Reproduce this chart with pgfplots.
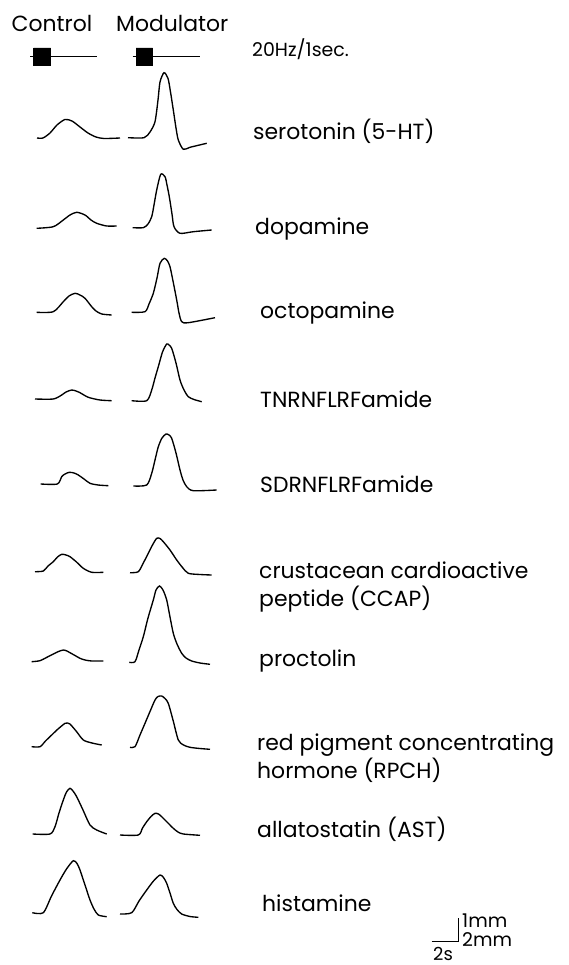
\documentclass[border=0pt]{standalone}
\usepackage{fontspec}
\setmainfont{Poppins}
\usepackage{pgfplots}
\pgfplotsset{compat=1.18}
\tikzset{
  tracepath/.style={black, line width=1.35bp, smooth, tension=0.45, mark=none},
  barline/.style={black, line width=1bp, sharp plot, mark=none},
  labtext/.style={anchor=base west, font=\fontsize{22}{26}\selectfont, inner sep=0pt},
}

\begin{document}
\begin{tikzpicture}
\begin{axis}[width=569bp, height=965bp, scale only axis,
  xmin=0, xmax=569, ymin=0, ymax=965, y dir=reverse,
  hide axis, clip=false]
% page frame (keeps the picture at full size)
\path (axis cs:0,0) rectangle (axis cs:569,965);

% stimulus markers
\addplot[barline] coordinates {(30,56.7) (97,56.7)};
\addplot[barline] coordinates {(132.7,56.7) (200,56.7)};
\addplot[barline, fill=black, line width=0.5bp] coordinates {(33.5,48) (50.5,48) (50.5,65) (33.5,65) (33.5,48)};
\addplot[barline, fill=black, line width=0.5bp] coordinates {(136,48) (152.5,48) (152.5,65) (136,65) (136,48)};

% serotonin
\addplot[tracepath] coordinates {(37,138) (43,138) (50,133) (57,125) (65,119.5) (72,121) (80,127) (88,133) (96,137) (104,138.5) (120,138)};
\addplot[tracepath] coordinates {(128,137.7) (144,137.7) (150,132) (155,121.7) (158,100) (160,82) (164,72.7) (168,78.3) (170.5,92) (173.3,110) (176,128) (178.3,140) (183.3,149.3) (190,147.3) (206.7,143.3)};
% dopamine
\addplot[tracepath] coordinates {(36.7,228.3) (53.3,226.7) (63.3,220) (70,215) (76.7,212.3) (85,215) (91,220) (96.7,223.3) (106.7,226) (116.7,226)};
\addplot[tracepath] coordinates {(132.7,227.7) (143.3,227.7) (148,224) (151.7,216.7) (154,205) (156.7,190) (160.7,174.3) (165,176.7) (167,185) (169.3,196.7) (172,214) (174,226.7) (180,233.3) (193.3,231.7) (211.7,230)};
% octopamine
\addplot[tracepath] coordinates {(36.7,312.3) (53.3,311.7) (63.3,301.7) (69,296) (75,293.3) (80,295) (85,298.3) (91.7,306.7) (96,311) (101.7,314) (111.7,315)};
\addplot[tracepath] coordinates {(131.7,312.3) (145,311.7) (149,304) (153.3,293.3) (157,278) (160,263.3) (164.3,258.3) (167.5,261) (170,266.7) (173,281) (176.7,300) (179,313) (181.7,321.7) (188.3,322.7) (215,317.7)};
% TNRNFLRFamide
\addplot[tracepath] coordinates {(35,399) (53.3,399) (61.7,395) (66,392) (71.7,390) (76,391) (80,392.7) (88.3,397.3) (100,400) (111.7,400.7)};
\addplot[tracepath] coordinates {(131.7,400.7) (146.7,400.7) (151.7,390) (155,378) (158.3,366.7) (162.5,352) (166.7,344) (169,345) (171.7,348.3) (176,363) (180,380) (184,390) (188.3,396.7) (194,399.5) (201.7,401.7)};
% SDRNFLRFamide
\addplot[tracepath] coordinates {(40.7,484) (57.3,484) (61.7,476.7) (65,474) (69.3,472.3) (74,473) (78.3,475) (84,479) (90,483.3) (98,485) (108.3,485.7)};
\addplot[tracepath] coordinates {(133.3,486) (146.7,485) (151.7,473.3) (155,460) (158.3,446.7) (162,438) (166,434) (169,435) (171.7,438.3) (176,453) (180,470) (183,480) (186.7,486.7) (193.3,490.7) (216.7,490)};
% CCAP
\addplot[tracepath] coordinates {(35,571.7) (43.3,571) (48,566) (53.3,561.7) (57.5,557) (61.7,554.3) (66,555) (70,556.7) (76.5,562) (83.3,568.3) (91.7,572.3) (103.3,572.3)};
\addplot[tracepath] coordinates {(130,572.7) (138.3,571.7) (143.3,563) (148.3,553.3) (152.5,545) (156.7,538.3) (160,538.5) (163.3,541.7) (170,550) (176.7,560) (182.5,567.5) (188.3,573.3) (200,574.5) (211.7,575)};
% proctolin
\addplot[tracepath] coordinates {(31.7,661.7) (40,660.7) (46.5,657.5) (53.3,654) (58.5,651.5) (63.3,650) (67,651) (70,652.7) (75,655.5) (80,658.3) (85,660) (91.7,661) (103.3,661)};
\addplot[tracepath] coordinates {(129.3,662.3) (135,661.7) (139,650) (143.3,636.7) (148,618) (153.3,600) (156,590) (159.5,586) (163,590) (166.7,600) (170,617) (173.3,633.3) (177,644) (181.7,653.3) (186,658) (191.7,661) (200,663) (210,664.3)};
% RPCH
\addplot[tracepath] coordinates {(31.7,746.7) (40,746.7) (45.5,741) (51.7,735) (58,729) (65,723.3) (67.5,723) (70,724) (76.5,731.5) (83.3,740) (92,743) (101.7,745)};
\addplot[tracepath] coordinates {(130,747.3) (135,746.7) (140,735) (145,723.3) (150,711.5) (155,700) (158,696.5) (161.7,696) (165,698.5) (168.3,703.3) (173,720) (178.3,740) (183.5,745) (190,747.3) (200,748.5) (210,749.3)};
% AST
\addplot[tracepath] coordinates {(32.7,834) (50,834) (55,826.7) (59,813) (63.3,800) (66.5,792) (70,788.3) (73,791) (76.7,796.7) (83,810) (90,825) (96.7,830) (106.7,834)};
\addplot[tracepath] coordinates {(120,835) (138.3,835) (142.5,828) (146.7,821.7) (151,816.5) (155,813.3) (158.5,814) (161.7,816.7) (167.5,822.5) (173.3,828.3) (178,832) (183.3,834) (200,835.3)};
% histamine
\addplot[tracepath] coordinates {(32.3,912.7) (43.3,912.7) (51.5,896) (60,880) (66.5,869) (73.3,860.7) (77,863.5) (80,870) (85,885) (90,900) (94,909) (98.3,915) (106.7,916.7)};
\addplot[tracepath] coordinates {(120,914) (131.7,912.7) (139,901) (146.7,890) (153.5,881) (160,875) (163.5,877.5) (166.7,883.3) (170,893) (173.3,903.3) (177,909.5) (181.7,914) (190,916.5) (198.3,917.3)};

% scale bar
\addplot[barline] coordinates {(431.7,941) (458.3,941) (458.3,918.3)};

% labels
\node[labtext] at (axis cs:11.5,31.5) {Control};
\node[labtext] at (axis cs:116,31.5) {Modulator};
\node[labtext, font=\fontsize{19}{22}\selectfont] at (axis cs:252,57) {20Hz/1sec.};
\node[labtext] at (axis cs:253,140) {serotonin (5-HT)};
\node[labtext] at (axis cs:255,234) {dopamine};
\node[labtext] at (axis cs:260,318) {octopamine};
\node[labtext] at (axis cs:260,407) {TNRNFLRFamide};
\node[labtext] at (axis cs:260,492) {SDRNFLRFamide};
\node[labtext] at (axis cs:259,578) {crustacean cardioactive};
\node[labtext] at (axis cs:259,606) {peptide (CCAP)};
\node[labtext] at (axis cs:259,666) {proctolin};
\node[labtext] at (axis cs:257,750) {red pigment concentrating};
\node[labtext] at (axis cs:257,778) {hormone (RPCH)};
\node[labtext] at (axis cs:257,837) {allatostatin (AST)};
\node[labtext] at (axis cs:262,911) {histamine};
\node[labtext, font=\fontsize{19}{22}\selectfont] at (axis cs:462,927) {1mm};
\node[labtext, font=\fontsize{19}{22}\selectfont] at (axis cs:462,946) {2mm};
\node[labtext, font=\fontsize{18}{21}\selectfont] at (axis cs:433,960) {2s};
\end{axis}
\end{tikzpicture}
\end{document}
